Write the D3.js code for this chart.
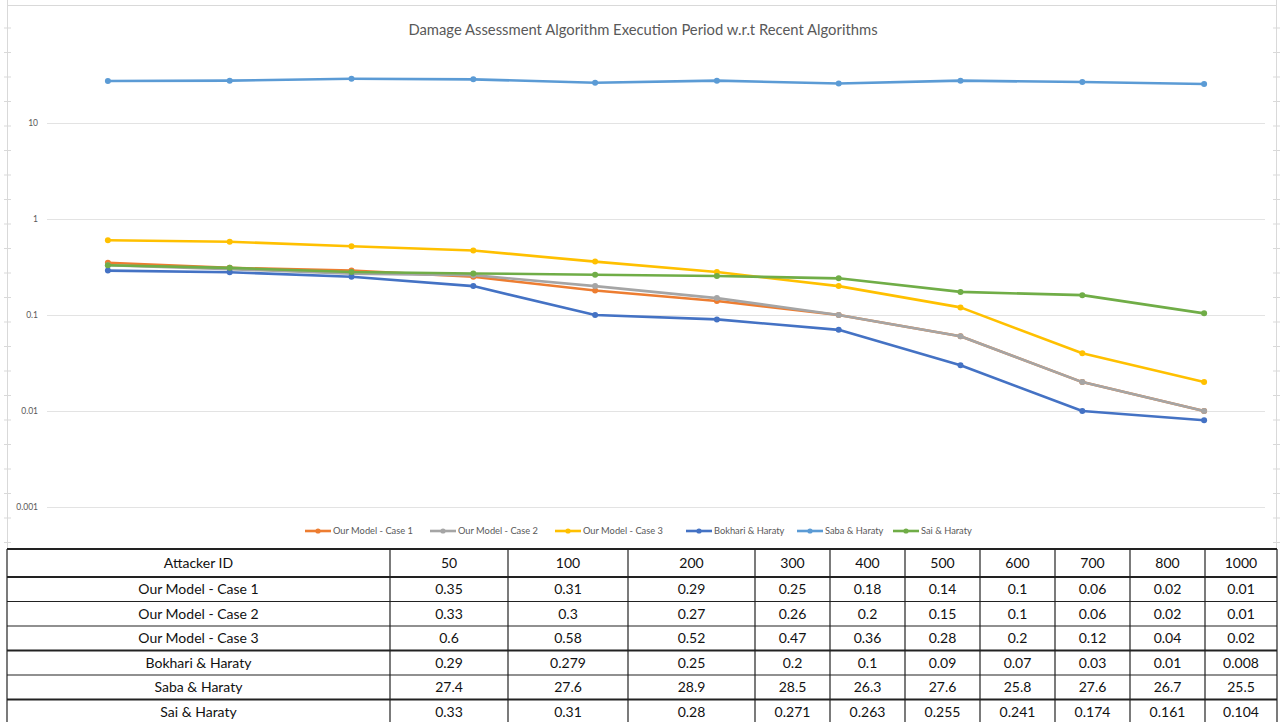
<!DOCTYPE html>
<html>
<head>
<meta charset="utf-8">
<script src="https://cdn.jsdelivr.net/npm/d3@7"></script>
<style>
  html, body { margin: 0; padding: 0; background: #fff; }
  svg { display: block; }
</style>
</head>
<body>
<svg id="chart" width="1281" height="722"></svg>
<script>
// ---------- data ----------
const categories = ["50", "100", "200", "300", "400", "500", "600", "700", "800", "1000"];
const seriesNames = ["Our Model - Case 1", "Our Model - Case 2", "Our Model - Case 3", "Bokhari & Haraty", "Saba & Haraty", "Sai & Haraty"];
const case1   = [0.35, 0.31, 0.29, 0.25, 0.18, 0.14, 0.1, 0.06, 0.02, 0.01];
const case2   = [0.33, 0.3, 0.27, 0.26, 0.2, 0.15, 0.1, 0.06, 0.02, 0.01];
const case3   = [0.6, 0.58, 0.52, 0.47, 0.36, 0.28, 0.2, 0.12, 0.04, 0.02];
const bokhari = [0.29, 0.279, 0.25, 0.2, 0.1, 0.09, 0.07, 0.03, 0.01, 0.008];
const saba    = [27.4, 27.6, 28.9, 28.5, 26.3, 27.6, 25.8, 27.6, 26.7, 25.5];
const sai     = [0.33, 0.31, 0.28, 0.271, 0.263, 0.255, 0.241, 0.174, 0.161, 0.104];
const yTicks  = [0.001, 0.01, 0.1, 1, 10];
const yTickLabels = ["0.001", "0.01", "0.1", "1", "10"];
const tableHeader = "Attacker ID";
const title = "Damage Assessment Algorithm Execution Period w.r.t Recent Algorithms";

const seriesValues = [case1, case2, case3, bokhari, saba, sai];
const colors = ["#ED7D31", "#A5A5A5", "#FFC000", "#4472C4", "#5B9BD5", "#70AD47"];

// ---------- layout ----------
const svg = d3.select("#chart");
const plot = { left: 47, right: 1265, top: 27, bottom: 507 };
const font = "Lato, 'Open Sans', sans-serif";

// spreadsheet frame artifacts (faint)
const frame = svg.append("g").attr("stroke", "#d9d9d9").attr("fill", "none");
frame.append("line").attr("x1", 7.5).attr("x2", 7.5).attr("y1", 0).attr("y2", 549);
frame.append("line").attr("x1", 1276.5).attr("x2", 1276.5).attr("y1", 0).attr("y2", 549);
frame.append("line").attr("x1", 7).attr("x2", 1277).attr("y1", 5.5).attr("y2", 5.5);
d3.range(28, 549, 24.5).forEach(y => {
  frame.append("line").attr("x1", 4).attr("x2", 11).attr("y1", y).attr("y2", y);
  frame.append("line").attr("x1", 1273).attr("x2", 1280).attr("y1", y).attr("y2", y);
});

// ---------- scales ----------
const x = d3.scaleBand().domain(categories).range([plot.left, plot.right]);
const y = d3.scaleLog().domain([0.001, 100]).range([plot.bottom, plot.top]);

// gridlines
svg.append("g").selectAll("line").data(yTicks).join("line")
  .attr("x1", plot.left).attr("x2", plot.right)
  .attr("y1", d => Math.round(y(d)) + 0.5).attr("y2", d => Math.round(y(d)) + 0.5)
  .attr("stroke", "#e3e3e3").attr("stroke-width", 1);

// y axis labels via d3 axis (no domain/ticks)
const yAxis = d3.axisLeft(y).tickValues(yTicks).tickFormat((d, i) => yTickLabels[i]).tickSize(0).tickPadding(9);
const ya = svg.append("g").attr("transform", `translate(${plot.left},0)`).call(yAxis);
ya.select(".domain").remove();
ya.selectAll("text").attr("font-family", font).attr("font-size", 8.5).attr("fill", "#595959");

// title
svg.append("text").attr("x", 643).attr("y", 35).attr("text-anchor", "middle")
  .attr("font-family", font).attr("font-size", 14.8).attr("fill", "#595959").text(title);

// lines
const line = d3.line().x((d, i) => x(categories[i]) + x.bandwidth() / 2).y(d => y(d));
seriesValues.forEach((vals, s) => {
  const g = svg.append("g");
  g.append("path").datum(vals).attr("d", line).attr("fill", "none")
    .attr("stroke", colors[s]).attr("stroke-width", 2.6).attr("stroke-linejoin", "round");
  g.selectAll("circle").data(vals).join("circle")
    .attr("cx", (d, i) => x(categories[i]) + x.bandwidth() / 2)
    .attr("cy", d => y(d)).attr("r", 3).attr("fill", colors[s]);
});

// legend
const legendX = [305, 430, 555, 686, 797, 893];
const lg = svg.append("g");
seriesNames.forEach((n, s) => {
  const gx = legendX[s];
  lg.append("line").attr("x1", gx).attr("x2", gx + 26).attr("y1", 531).attr("y2", 531)
    .attr("stroke", colors[s]).attr("stroke-width", 2.6);
  lg.append("circle").attr("cx", gx + 13).attr("cy", 531).attr("r", 2.6).attr("fill", colors[s]);
  lg.append("text").attr("x", gx + 28).attr("y", 534).attr("font-family", font)
    .attr("font-size", 9.3).attr("fill", "#595959").text(n);
});

// ---------- table ----------
const colX = [7, 390, 508, 628, 755, 830, 905, 980, 1055, 1130, 1205, 1277];
const rowY = [549, 577, 601.5, 626, 650.5, 675, 699.5, 724];
const tg = svg.append("g");
tg.append("rect").attr("x", colX[0]).attr("y", rowY[0]).attr("width", colX[11] - colX[0]).attr("height", rowY[7] - rowY[0])
  .attr("fill", "#fff");
const rows = [[tableHeader].concat(categories)].concat(seriesNames.map((n, s) => [n].concat(seriesValues[s].map(v => String(v)))));
rows.forEach((r, ri) => {
  r.forEach((cell, ci) => {
    tg.append("text").attr("x", (colX[ci] + colX[ci + 1]) / 2).attr("y", (rowY[ri] + rowY[ri + 1]) / 2 + 5)
      .attr("text-anchor", "middle").attr("font-family", font).attr("font-size", 14).attr("fill", "#111").text(cell);
  });
});
const thick = [0, 1, 4, 6];
rowY.forEach((yy, i) => {
  tg.append("line").attr("x1", colX[0]).attr("x2", colX[11]).attr("y1", yy).attr("y2", yy)
    .attr("stroke", "#222").attr("stroke-width", thick.includes(i) ? 2 : 1.2);
});
colX.forEach((xx) => {
  tg.append("line").attr("x1", xx).attr("x2", xx).attr("y1", rowY[0]).attr("y2", rowY[7])
    .attr("stroke", "#222").attr("stroke-width", 1.2);
});
</script>
</body>
</html>
